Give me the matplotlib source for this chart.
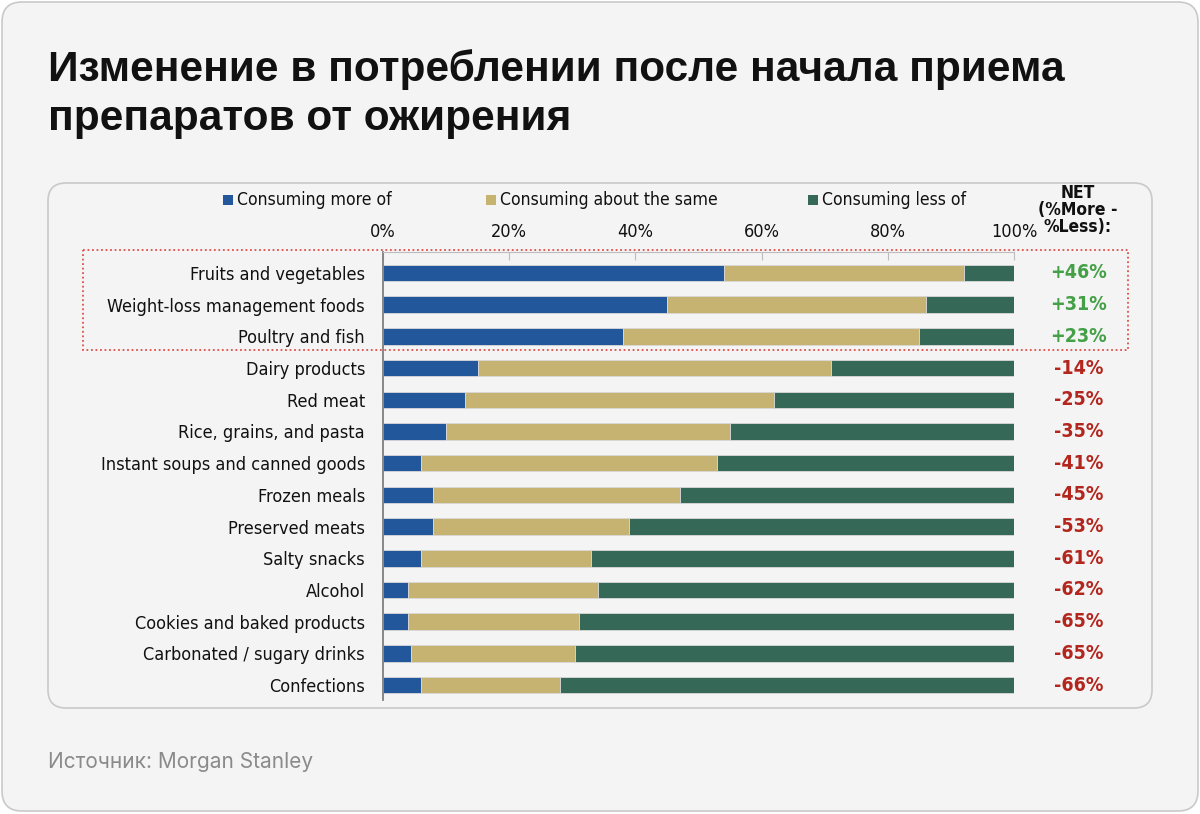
import numpy as np
import matplotlib
matplotlib.use('Agg')
import matplotlib.pyplot as plt
from matplotlib.patches import FancyBboxPatch, Rectangle

categories = ['Fruits and vegetables', 'Weight-loss management foods', 'Poultry and fish',
              'Dairy products', 'Red meat', 'Rice, grains, and pasta',
              'Instant soups and canned goods', 'Frozen meals', 'Preserved meats',
              'Salty snacks', 'Alcohol', 'Cookies and baked products',
              'Carbonated / sugary drinks', 'Confections']
more = [54, 45, 38, 15, 13, 10, 6, 8, 8, 6, 4, 4, 4.5, 6]
same = [38, 41, 47, 56, 49, 45, 47, 39, 31, 27, 30, 27, 26, 22]
less = [8, 14, 15, 29, 38, 45, 47, 53, 61, 67, 66, 69, 69.5, 72]
net_labels = ['+46%', '+31%', '+23%', '-14%', '-25%', '-35%', '-41%', '-45%',
              '-53%', '-61%', '-62%', '-65%', '-65%', '-66%']
xticks = [0, 20, 40, 60, 80, 100]
series_names = ['Consuming more of', 'Consuming about the same', 'Consuming less of']

BLUE = '#22589b'
TAN = '#c6b271'
GREEN = '#356857'
W, H = 1200, 814

cond = dict(family='DejaVu Sans', stretch='condensed')

fig = plt.figure(figsize=(W / 100, H / 100), dpi=100, facecolor='white')

# background layer in pixel coordinates
bg = fig.add_axes([0, 0, 1, 1], zorder=0)
bg.set_xlim(0, W)
bg.set_ylim(H, 0)
bg.axis('off')
bg.add_patch(FancyBboxPatch((2, 2), W - 4, H - 5, boxstyle='round,pad=0,rounding_size=20',
                            fc='#f4f4f4', ec='#c9c9c9', lw=1.2))
bg.add_patch(FancyBboxPatch((48, 183), 1104, 525, boxstyle='round,pad=0,rounding_size=18',
                            fc='#f4f4f4', ec='#c9c9c9', lw=1.2))
bg.add_patch(Rectangle((83, 250), 1045, 100, fill=False, ec='#e0504a', lw=1.3, ls=(0, (1, 1.5))))

bg.text(48, 49, 'Изменение в потреблении после начала приема\nпрепаратов от ожирения',
        fontsize=30.5, fontweight='bold', family=['Liberation Sans', 'DejaVu Sans'], va='top',
        ha='left', color='#111111', linespacing=1.28)
bg.text(48, 762, 'Источник: Morgan Stanley', fontsize=15, color='#8a8a8a',
        family=['Inter', 'DejaVu Sans'], va='center', ha='left')

# legend
leg_x = [228, 491, 813]
for x, name, c in zip(leg_x, series_names, [BLUE, TAN, GREEN]):
    bg.add_patch(Rectangle((x - 5, 195), 10, 10, fc=c, ec='none'))
    bg.text(x + 9, 200, name, fontsize=12.6, va='center', ha='left', color='#111111', **cond)

bg.text(1078, 210, 'NET\n(%More -\n%Less):', fontsize=12.5, fontweight='bold',
        ha='center', va='center', linespacing=0.95, color='#111111', **cond)

# main chart
ax = fig.add_axes([383 / W, 1 - 700 / H, 631 / W, 448 / H], zorder=1)
ax.patch.set_alpha(0)
y = np.arange(len(categories))
more_a = np.array(more)
same_a = np.array(same)
less_a = np.array(less)
bh = 0.52
ax.barh(y, more_a, height=bh, color=BLUE, edgecolor='#d9d9d9', lw=0.6)
ax.barh(y, same_a, left=more_a, height=bh, color=TAN, edgecolor='#d9d9d9', lw=0.6)
ax.barh(y, less_a, left=more_a + same_a, height=bh, color=GREEN, edgecolor='#d9d9d9', lw=0.6)

ax.set_xlim(0, 100)
ax.set_ylim(len(categories) - 0.53, -0.66)
ax.set_yticks(y)
ax.set_yticklabels(categories, fontsize=13, color='#111111', **cond)
ax.tick_params(axis='y', length=0, pad=13)
ax.xaxis.tick_top()
ax.set_xticks(xticks)
ax.set_xticklabels([f'{t}%' for t in xticks], fontsize=13, color='#111111', **cond)
ax.tick_params(axis='x', direction='in', length=6, color='#bdbdbd', pad=8)
for s in ['right', 'bottom']:
    ax.spines[s].set_visible(False)
ax.spines['top'].set_color('#bdbdbd')
ax.spines['left'].set_color('#7f7f7f')
ax.spines['left'].set_linewidth(1.3)

for yi, lab in zip(y, net_labels):
    col = '#43a047' if lab.startswith('+') else '#b3261e'
    ax.text(110.2, yi, lab, fontsize=14, fontweight='bold', color=col,
            ha='center', va='center', clip_on=False, **cond)

fig.savefig('out.png', dpi=100, facecolor='white')
